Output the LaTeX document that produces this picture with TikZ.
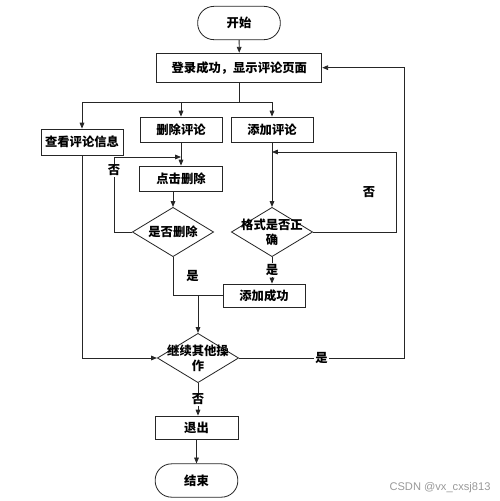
\documentclass[tikz,border=0pt]{standalone}
\usepackage{fontspec}
\setmainfont{Noto Sans CJK SC}
\newfontfamily\wmfont{Liberation Sans}
\usetikzlibrary{shapes.geometric,arrows.meta}
\begin{document}
\begin{tikzpicture}[
  every node/.style={font=\fontsize{10.5}{13}\selectfont\bfseries},
  line/.style={draw=black!85, line width=0.7pt},
  box/.style={line, rectangle, inner sep=0pt},
  term/.style={line, rectangle, rounded corners=0.49cm, inner sep=0pt, minimum width=2.48cm, minimum height=1cm},
  decision/.style={line, diamond, inner sep=0pt, minimum width=2.44cm, minimum height=1.48cm},
  lbl/.style={fill=white, inner sep=1pt},
  >={Triangle[length=5pt,width=4pt]}
]
\useasboundingbox (0,0) rectangle (14.97,-15.03);

% Start and main page
\node[term] (start) at (7.17,-0.69) {开始};
\node[box, minimum width=4.95cm, minimum height=0.87cm] (login) at (7.18,-2.03) {登录成功，显示评论页面};

% Three branches
\node[box, minimum width=2.46cm, minimum height=0.78cm] (view) at (2.46,-4.26) {查看评论信息};
\node[box, minimum width=2.46cm, minimum height=0.75cm] (del) at (5.43,-3.885) {删除评论};
\node[box, minimum width=2.46cm, minimum height=0.75cm] (add) at (8.16,-3.885) {添加评论};
\node[box, minimum width=2.49cm, minimum height=0.75cm] (click) at (5.43,-5.355) {点击删除};
\node[decision, label={[align=center]center:是否删除}] (deldec) at (5.19,-6.96) {};
\node[decision, label={[align=center]center:格式是否正\\确}] (fmtdec) at (8.16,-6.96) {};
\node[box, minimum width=2.46cm, minimum height=0.69cm] (addok) at (7.92,-8.865) {添加成功};

% Continue or quit
\node[decision, label={[align=center]center:继续其他操\\作}] (contdec) at (5.94,-10.74) {};
\node[box, minimum width=2.49cm, minimum height=0.69cm] (exit) at (5.895,-12.825) {退出};
\node[term] (end) at (5.895,-14.415) {结束};

\coordinate (br) at (7.18,-3.06);
\coordinate (backdel) at (5.43,-4.71);
\coordinate (backadd) at (8.16,-4.56);
\coordinate (jn) at (contdec.north |- addok.west);

\draw[line,->] (start) -- (login);
\draw[line] (login.south) -- (br);
\draw[line,->] (br) -| (view.north);
\draw[line,->] (br) -| (del.north);
\draw[line,->] (br) -| (add.north);
\draw[line,->] (del) -- (click);
\draw[line,->] (deldec.north |- click.south) -- (deldec.north);
\draw[line,->] (deldec.west) -- ++(-0.54,0) |- node[pos=0.41, lbl]{否} (backdel);
\draw[line] (deldec.south) |- node[pos=0.25, right=0.27cm]{是} (addok.west);
\draw[line,->] (add) -- (fmtdec);
\draw[line,->] (fmtdec.east) -- ++(2.49,0) |- node[pos=0.25, left=0.5cm]{否} (backadd);
\draw[line,->] (fmtdec.south) -- node[lbl]{是} (fmtdec.south |- addok.north);
\draw[line,->] (jn) -- (contdec.north);
\draw[line,->] (view.south) |- (contdec.west);
\draw[line,->] (contdec.east) -- node[lbl]{是} ++(4.95,0) |- (login.east);
\draw[line,->] (contdec.south) -- node[lbl]{否} (contdec.south |- exit.north);
\draw[line,->] (exit) -- (end);

\node[font=\wmfont\fontsize{9.5}{11}\selectfont, text=black!40] (wm) at (13.2,-14.64) {CSDN @vx\_cxsj813};
\end{tikzpicture}
\end{document}
